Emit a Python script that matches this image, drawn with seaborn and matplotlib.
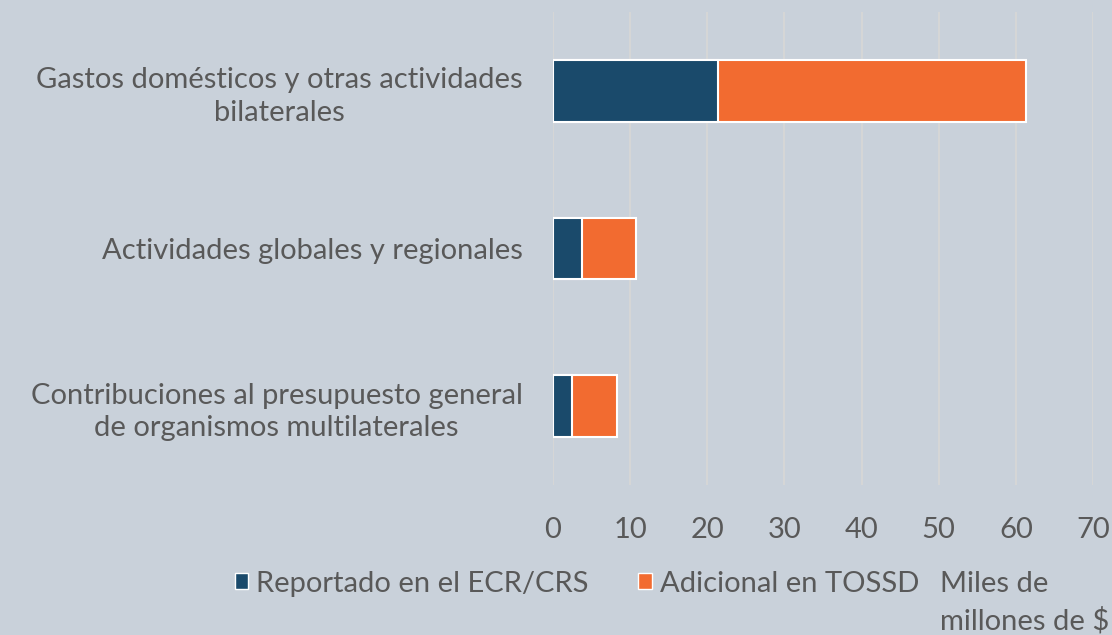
import numpy as np
import pandas as pd
import matplotlib.pyplot as plt
import seaborn as sns
from matplotlib.patches import Patch

plt.switch_backend('Agg')

# Data (Miles de millones de $)
categories = [
    "Gastos domésticos y otras actividades\nbilaterales",
    "Actividades globales y regionales",
    "Contribuciones al presupuesto general\nde organismos multilaterales",
]
reportado = [21.4, 3.8, 2.4]
adicional = [39.9, 7.0, 5.9]
series_names = ["Reportado en el ECR/CRS", "Adicional en TOSSD"]
xticks = [0, 10, 20, 30, 40, 50, 60, 70]

BG = "#C9D1DA"
BLUE = "#1A4A6B"
ORANGE = "#F26B30"
TEXT = "#595959"
GRID = "#D8D8D6"
FS = 21

df = pd.DataFrame({
    "categoria": categories,
    "reportado": reportado,
    "total": np.array(reportado) + np.array(adicional),
})

sns.set_style("white")
plt.rcParams["font.family"] = ["Lato", "DejaVu Sans"]

fig = plt.figure(figsize=(11.12, 6.35), dpi=100, facecolor=BG)
ax = fig.add_axes([0.4973, 0.2362, 0.4856, 0.7449], facecolor=BG)

# total bar (orange) with the reported part drawn on top (blue)
sns.barplot(data=df, y="categoria", x="total", orient="h", color=ORANGE,
            width=0.39, edgecolor="white", linewidth=1.5, saturation=1, ax=ax)
sns.barplot(data=df, y="categoria", x="reportado", orient="h", color=BLUE,
            width=0.39, edgecolor="white", linewidth=1.5, saturation=1, ax=ax)

ax.set_xlim(0, 70)
ax.set_ylim(2.5, -0.5)
ax.set_xticks(xticks)
ax.set_xticklabels([str(t) for t in xticks])
ax.set_xlabel("")
ax.set_ylabel("")
ax.grid(axis="x", color=GRID, linewidth=1.2)
ax.set_axisbelow(True)
for s in ax.spines.values():
    s.set_visible(False)
ax.tick_params(axis="x", length=0, pad=23, labelsize=FS, labelcolor=TEXT)
ax.tick_params(axis="y", length=0, pad=22, labelsize=FS, labelcolor=TEXT)
for lab in ax.get_yticklabels():
    lab.set_multialignment("center")
    lab.set_linespacing(1.3)

handles = [Patch(facecolor=BLUE, edgecolor="white", linewidth=1),
           Patch(facecolor=ORANGE, edgecolor="white", linewidth=1)]
fig.legend(handles, series_names, loc="center", bbox_to_anchor=(0.519, 0.081),
           ncol=2, frameon=False, fontsize=FS, labelcolor=TEXT,
           handlelength=0.45, handleheight=0.45, handletextpad=0.3,
           columnspacing=1.7)

fig.text(0.8455, 0.051, "Miles de\nmillones de $", ha="left", va="center",
         fontsize=FS, color=TEXT, linespacing=1.45)

fig.savefig("out.png", dpi=100, facecolor=BG)
